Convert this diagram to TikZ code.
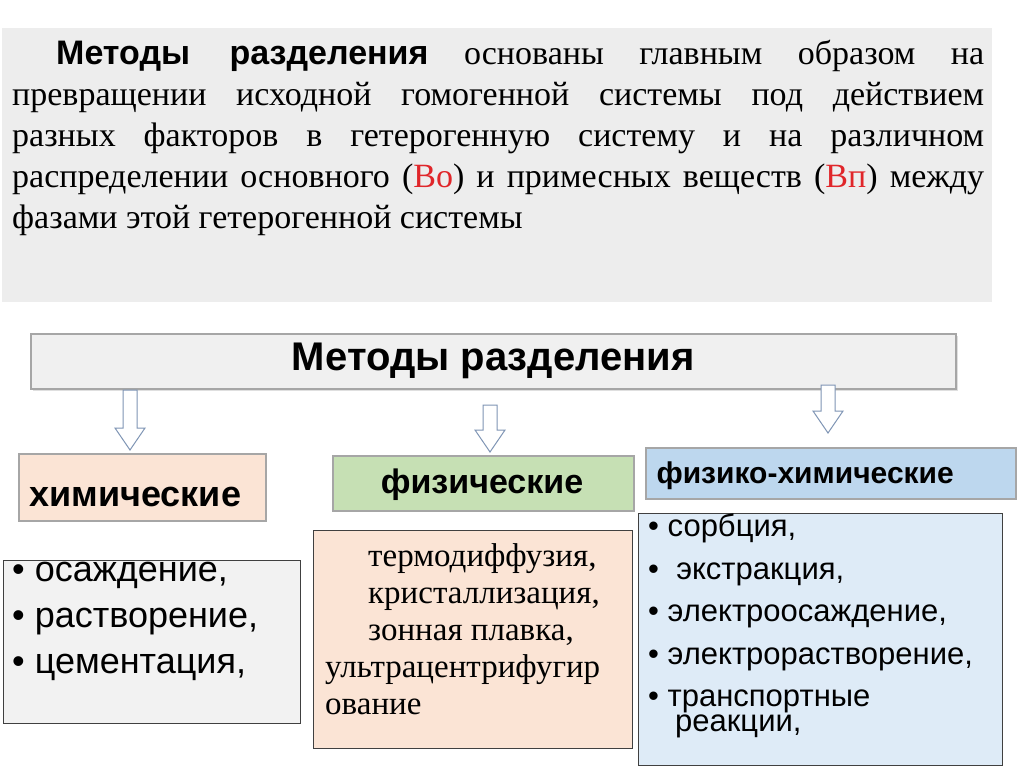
\documentclass[tikz,border=0pt]{standalone}
\usepackage{fontspec}
\setmainfont{Liberation Serif}
\setsansfont{Liberation Sans}
\usetikzlibrary{shadows}
\definecolor{topgray}{HTML}{EDEDED}
\definecolor{titlegray}{HTML}{F0F0F0}
\definecolor{chem}{HTML}{FBE4D5}
\definecolor{phys}{HTML}{C6E0B4}
\definecolor{physchem}{HTML}{BDD7EE}
\definecolor{listgray}{HTML}{F2F2F2}
\definecolor{listblue}{HTML}{DEEBF7}
\definecolor{red1}{HTML}{E0262A}
\definecolor{arrowc}{HTML}{7F95B5}
\tikzset{
  hdr/.style={draw=gray!70, line width=1.5pt, inner sep=0pt, anchor=north west},
  lst/.style={draw=black!75, line width=1pt, inner sep=0pt, anchor=north west},
  darrow/.style={draw=arrowc, fill=white, line width=1pt, line join=miter},
}
\newcommand{\blockarrow}[3]{% x, ytop, ybottom
  \draw[darrow] ({#1-7},#2) -- ({#1+7},#2) -- ({#1+7},{#3-22}) -- ({#1+15},{#3-22}) -- (#1,#3) -- ({#1-15},{#3-22}) -- ({#1-7},{#3-22}) -- cycle;}
\begin{document}
\begin{tikzpicture}[x=1pt,y=-1pt]
\useasboundingbox (0,0) rectangle (1024,767);
\fill[white] (0,0) rectangle (1024,767);
% top explanatory box
\node[fill=topgray, minimum width=990pt, minimum height=274pt, anchor=north west, inner sep=0pt] (top) at (2,28) {};
\node[anchor=north west, text width=972pt, align=justify, inner sep=0pt, font=\fontsize{34}{41}\selectfont] (toptext) at (12,40)
{\hspace*{44pt}\textsf{\textbf{Методы разделения}} основаны главным образом на\linebreak превращении исходной гомогенной системы под действием\linebreak разных факторов в гетерогенную систему и на различном\linebreak распределении основного (\textcolor{red1}{Во}) и примесных веществ (\textcolor{red1}{Вп}) между\linebreak фазами этой гетерогенной системы};
% title
\node[hdr, fill=titlegray, minimum width=925pt, minimum height=55pt, drop shadow={opacity=0.25}] (title) at (30,333) {};
\node[font=\sffamily\bfseries\fontsize{40}{44}\selectfont] at (title.center) {Методы разделения};
% category boxes
\node[hdr, fill=chem, minimum width=247pt, minimum height=67pt] (chem) at (18,453) {};
\node[anchor=west, font=\sffamily\bfseries\fontsize{36}{40}\selectfont] at (26,497) {химические};
\node[hdr, fill=phys, minimum width=301pt, minimum height=55pt] (phys) at (332,455) {};
\node[font=\sffamily\bfseries\fontsize{34}{38}\selectfont] at (482,485) {физические};
\node[hdr, fill=physchem, minimum width=370pt, minimum height=51pt] (pc) at (645,447) {};
\node[anchor=west, font=\sffamily\bfseries\fontsize{30}{34}\selectfont] at (653,476) {физико-химические};
% arrows
\blockarrow{130}{390}{450}
\blockarrow{490}{405}{452}
\blockarrow{828}{385}{433}
% lists
\node[lst, fill=listgray, minimum width=297pt, minimum height=163pt] (l1) at (3,560) {};
\node[anchor=north west, inner sep=0pt, align=left, font=\sffamily\fontsize{36}{46}\selectfont] at (12,562)
{• осаждение,\\ • растворение,\\ • цементация,};
\node[lst, fill=chem, minimum width=319pt, minimum height=218pt] (l2) at (313,530) {};
\node[anchor=north west, inner sep=0pt, align=left, font=\fontsize{33}{37}\selectfont] at (325,543)
{\hspace*{43pt}термодиффузия,\\ \hspace*{43pt}кристаллизация,\\ \hspace*{43pt}зонная плавка,\\ ультрацентрифугир\\ ование};
\node[lst, fill=listblue, minimum width=364pt, minimum height=252pt] (l3) at (638,513) {};
\node[anchor=north west, inner sep=0pt, align=left, font=\sffamily\fontsize{31}{42.5}\selectfont] at (648,514)
{• сорбция,\\ •\ \ экстракция,\\ • электроосаждение,\\ • электрорастворение,\\ • транспортные};
\node[anchor=north west, inner sep=0pt, font=\sffamily\fontsize{31}{34}\selectfont] at (675,715) {реакции,};
\end{tikzpicture}
\end{document}
